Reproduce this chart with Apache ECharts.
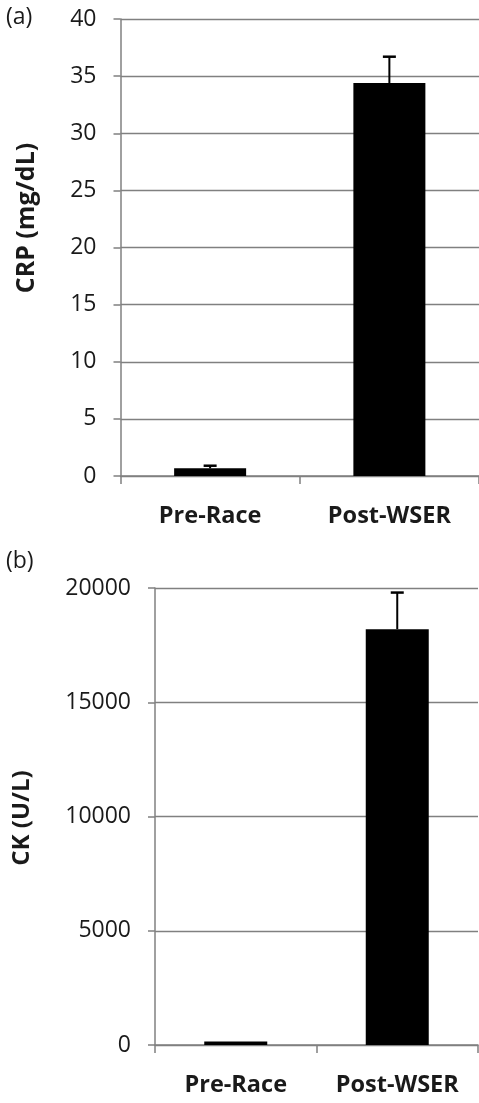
<!DOCTYPE html>
<html>
<head>
<meta charset="utf-8">
<script src="https://cdn.jsdelivr.net/npm/echarts@6/dist/echarts.min.js"></script>
<style>html,body{margin:0;padding:0;background:#fff;}#c{width:479px;height:1103px;}</style>
</head>
<body>
<div id="c"></div>
<script>
var categories = ['Pre-Race', 'Post-WSER'];
var crpValues = [0.67, 34.4];
var crpErrors = [0.23, 2.3];
var ckValues = [150, 18200];
var ckErrors = [0, 1600];
var crpTicks = [0, 5, 10, 15, 20, 25, 30, 35, 40];
var ckTicks = [0, 5000, 10000, 15000, 20000];

var FONT = '"Open Sans", "DejaVu Sans", sans-serif';
var GREY = '#808080';
var TXT = '#1a1a1a';

function errData(vals, errs) {
  return vals.map(function (v, i) { return [i, v, errs[i]]; });
}
function errRender(params, api) {
  var i = api.value(0), v = api.value(1), e = api.value(2);
  if (!e) return null;
  var b = api.coord([i, v]);
  var t = api.coord([i, v + e]);
  var hw = 6.5;
  return {
    type: 'group',
    children: [
      { type: 'line', shape: { x1: b[0], y1: b[1], x2: t[0], y2: t[1] }, style: { stroke: '#000', lineWidth: 2 } },
      { type: 'line', shape: { x1: t[0] - hw, y1: t[1], x2: t[0] + hw, y2: t[1] }, style: { stroke: '#000', lineWidth: 2.5 } }
    ]
  };
}
function xAxis(idx) {
  return {
    type: 'category', gridIndex: idx, data: categories, boundaryGap: true,
    axisLine: { lineStyle: { color: GREY, width: 1.5 } },
    axisTick: { show: true, length: 8, alignWithLabel: false, lineStyle: { color: GREY, width: 1.5 } },
    axisLabel: { fontFamily: FONT, fontWeight: 'bold', fontSize: 23.5, color: TXT, margin: 28 }
  };
}
function yAxis(idx, ticks) {
  return {
    type: 'value', gridIndex: idx, min: ticks[0], max: ticks[ticks.length - 1],
    interval: ticks[1] - ticks[0],
    axisLine: { show: true, lineStyle: { color: GREY, width: 1.5 } },
    axisTick: { show: true, length: 7, lineStyle: { color: GREY, width: 1.5 } },
    splitLine: { show: true, lineStyle: { color: GREY, width: 1.4 } },
    axisLabel: { fontFamily: FONT, fontSize: 23, color: TXT, margin: 24, formatter: function (v) { return String(v); } }
  };
}

var chart = echarts.init(document.getElementById('c'), null, { renderer: 'canvas' });
chart.setOption({
  backgroundColor: '#fff',
  animation: false,
  grid: [
    { left: 120.5, right: -3, top: 19, bottom: 627 },
    { left: 155, right: 1, top: 588, bottom: 58 }
  ],
  xAxis: [xAxis(0), xAxis(1)],
  yAxis: [yAxis(0, crpTicks), yAxis(1, ckTicks)],
  graphic: [
    { type: 'text', left: 6, top: 6, style: { text: '(a)', font: '23px ' + FONT, fill: TXT } },
    { type: 'text', left: 6, top: 550, style: { text: '(b)', font: '23px ' + FONT, fill: TXT } },
    { type: 'text', x: 27, y: 218, rotation: Math.PI / 2,
      style: { text: 'CRP (mg/dL)', font: 'bold 25px ' + FONT, fill: TXT, align: 'center', verticalAlign: 'middle' } },
    { type: 'text', x: 22, y: 818, rotation: Math.PI / 2,
      style: { text: 'CK (U/L)', font: 'bold 24px ' + FONT, fill: TXT, align: 'center', verticalAlign: 'middle' } }
  ],
  series: [
    { type: 'bar', xAxisIndex: 0, yAxisIndex: 0, data: crpValues, barWidth: 72, itemStyle: { color: '#000' }, z: 3 },
    { type: 'custom', xAxisIndex: 0, yAxisIndex: 0, data: errData(crpValues, crpErrors), renderItem: errRender, z: 4 },
    { type: 'bar', xAxisIndex: 1, yAxisIndex: 1, data: ckValues, barWidth: 63, itemStyle: { color: '#000' }, z: 3 },
    { type: 'custom', xAxisIndex: 1, yAxisIndex: 1, data: errData(ckValues, ckErrors), renderItem: errRender, z: 4 }
  ]
});
</script>
</body>
</html>
